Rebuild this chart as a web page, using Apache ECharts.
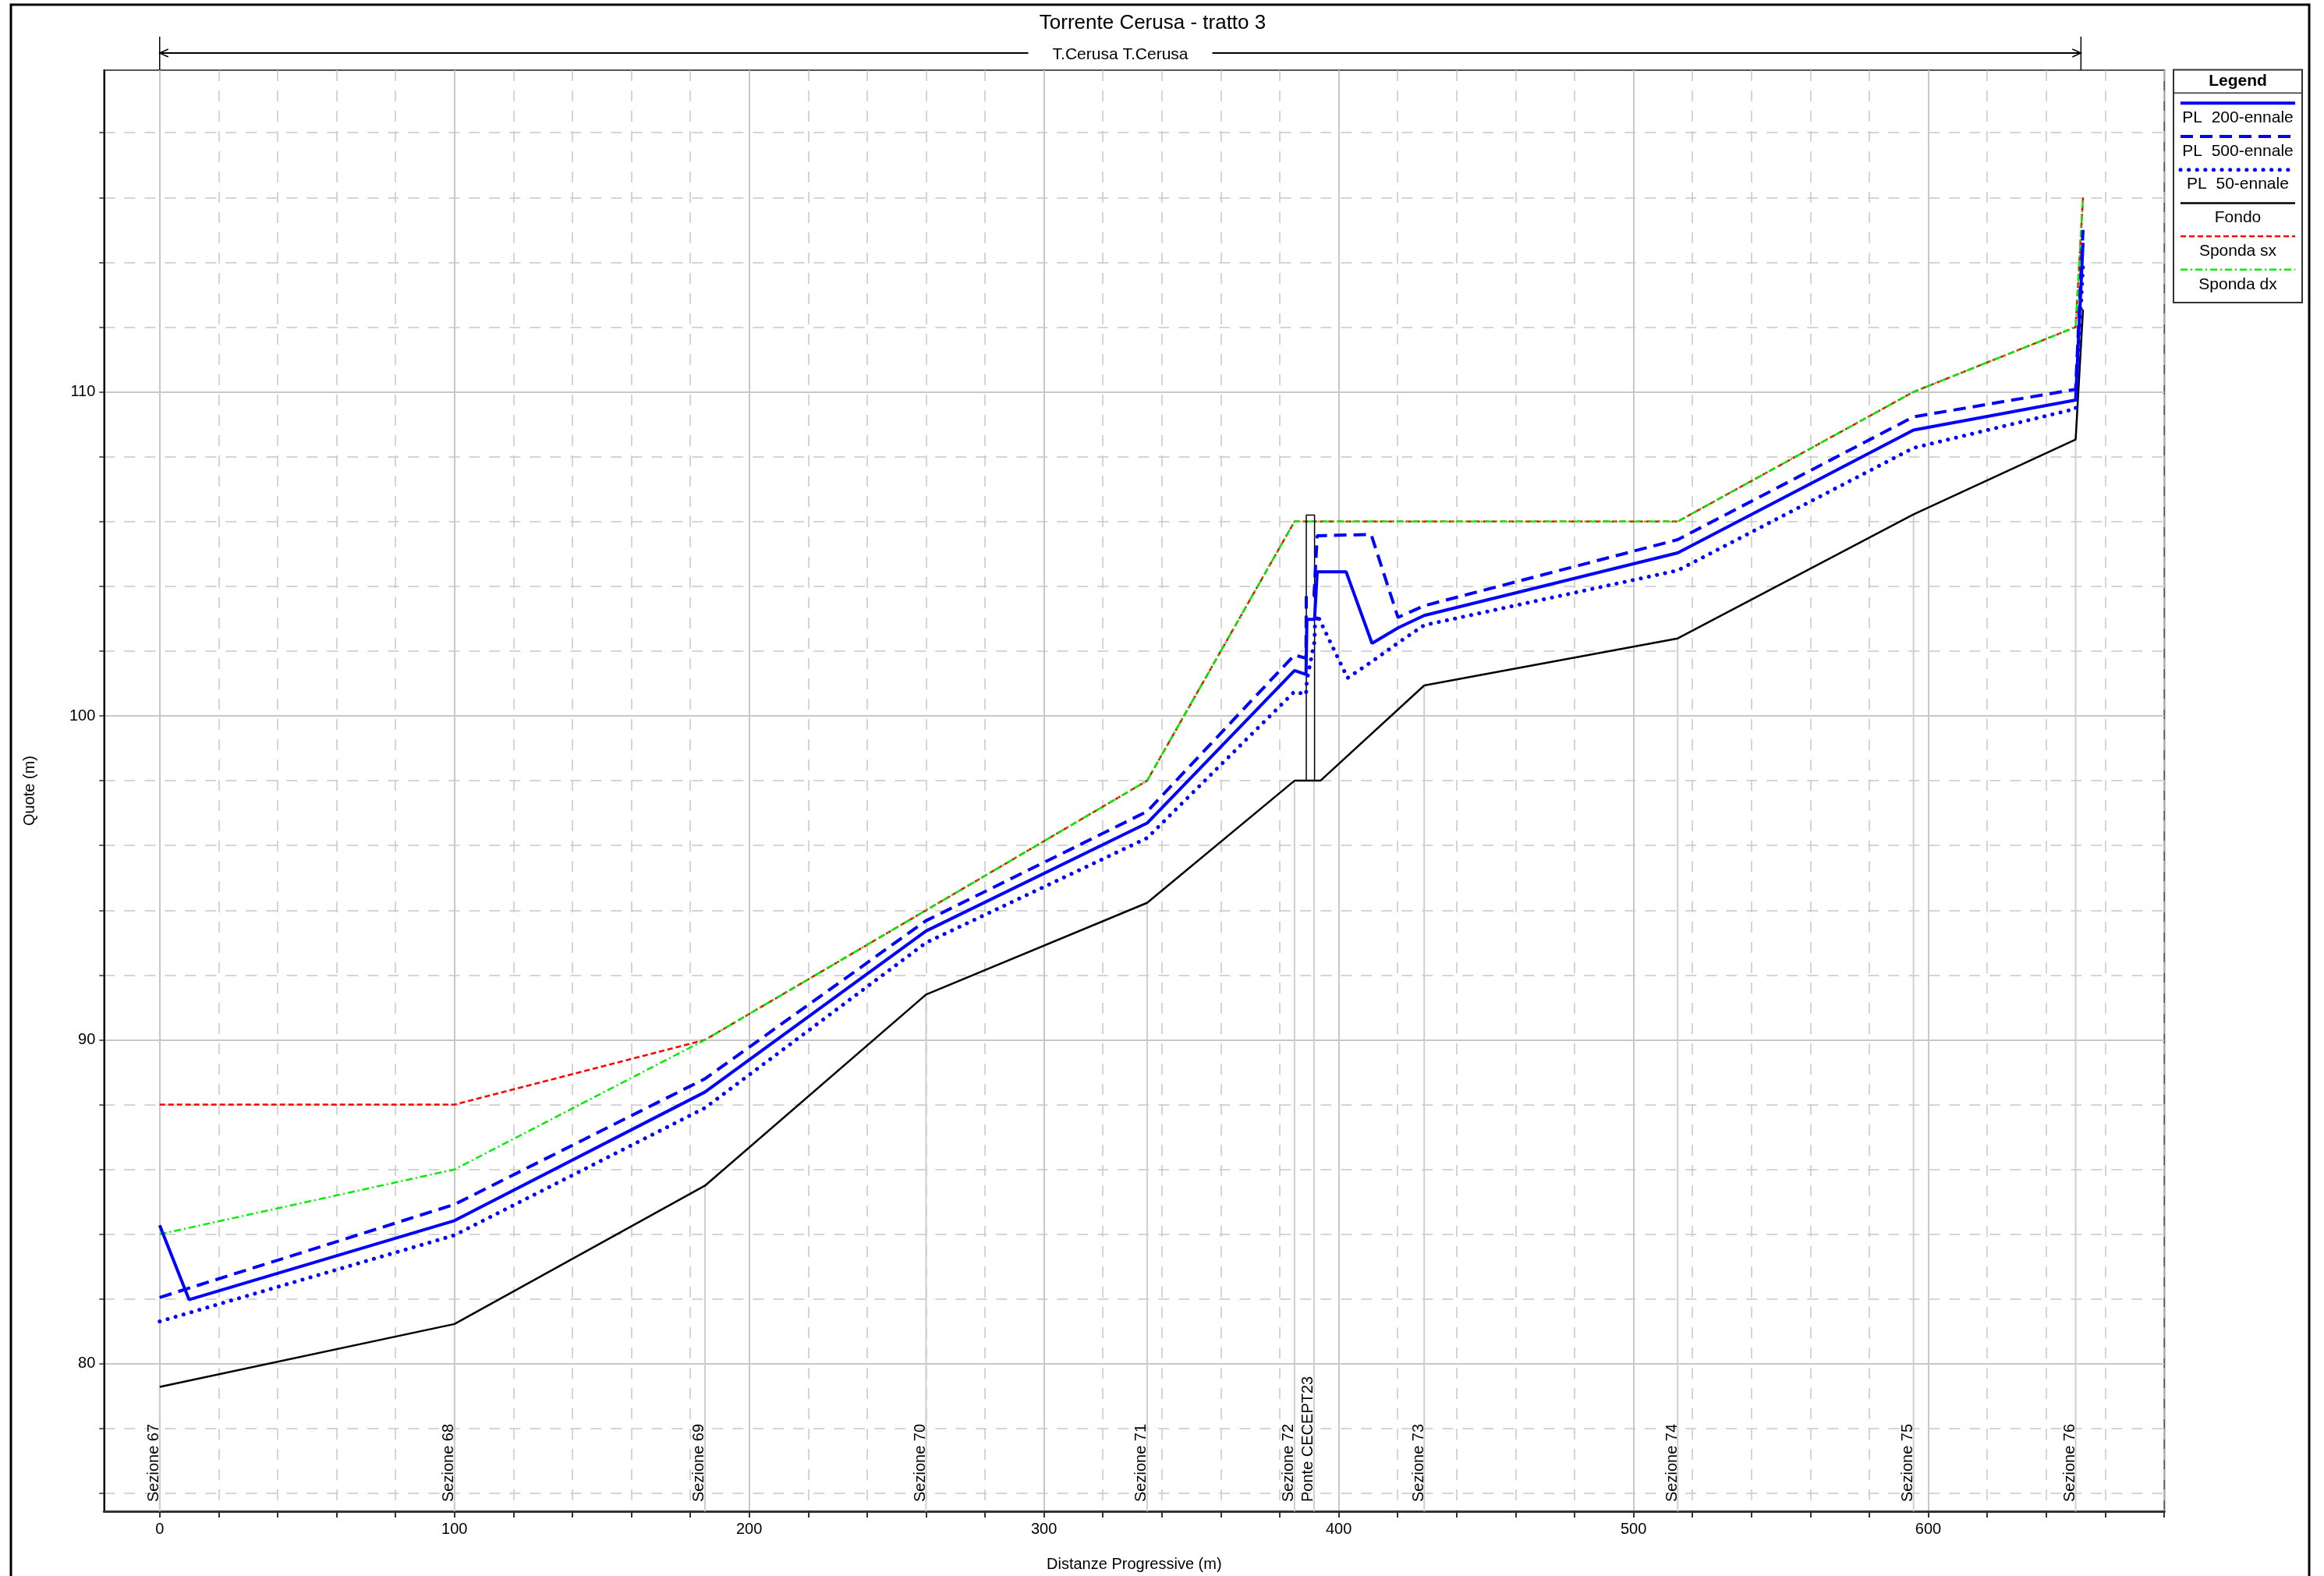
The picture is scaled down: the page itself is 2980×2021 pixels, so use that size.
<!DOCTYPE html>
<html><head><meta charset="utf-8">
<script src="https://cdn.jsdelivr.net/npm/echarts@6/dist/echarts.min.js"></script>
<style>html,body{margin:0;padding:0;background:#fff}#c{width:2980px;height:2021px}</style>
</head><body><div id="c"></div>
<script>
// ---------------- data ----------------
const sectionNames = ['Sezione 67','Sezione 68','Sezione 69','Sezione 70','Sezione 71','Sezione 72','Ponte CECEPT23','Sezione 73','Sezione 74','Sezione 75','Sezione 76'];
const sectionX     = [0, 100, 185, 260, 335, 385, 391.6, 429, 515, 595, 650];
const sectionFondo = [79.29, 81.23, 85.5, 91.4, 94.23, 98.0, 98.0, 100.94, 102.39, 106.22, 108.53];

const fondo = [[0,79.29],[100,81.23],[185,85.5],[260,91.4],[335,94.23],[385,98.0],[393.8,98.0],[429,100.94],[515,102.39],[595,106.22],[650,108.53],[652.5,112.54]];
const pl200 = [[0,84.28],[10,81.98],[100,84.42],[185,88.39],[260,93.36],[335,96.69],[385,101.4],[388.9,101.28],[389.2,102.98],[391.8,102.98],[392.7,104.45],[402.5,104.45],[411.3,102.24],[420.2,102.72],[429,103.1],[515,105.03],[595,108.82],[650,109.75],[652.5,114.6]];
const pl500 = [[0,82.05],[100,84.92],[185,88.8],[260,93.68],[335,97.05],[385,101.88],[388.9,101.78],[389.0,103.7],[391.6,103.7],[392.7,105.56],[411.0,105.6],[420.1,103.04],[429,103.4],[515,105.44],[595,109.23],[650,110.08],[652.5,115.0]];
const pl50  = [[0,81.31],[100,83.97],[185,87.9],[260,93.0],[335,96.23],[385,100.75],[388.9,100.66],[389.2,101.1],[391.8,102.3],[391.9,102.75],[392.7,103.12],[403,101.17],[411.3,101.68],[420.2,102.26],[429,102.8],[515,104.49],[595,108.27],[650,109.48],[652.5,113.9]];
const spondaSx = [[0,88],[100,88],[185,90],[260,94],[335,98],[385,106],[429,106],[515,106],[595,110],[650,112],[652.5,116]];
const spondaDx = [[0,84],[100,86],[185,90],[260,94],[335,98],[385,106],[429,106],[515,106],[595,110],[650,112],[652.5,116]];
const bridge = [[389.0,98.0],[389.0,106.2],[391.8,106.2],[391.8,98.0]];
const reach = [0, 651.8];
const reachLabel = 'T.Cerusa T.Cerusa';
const titleText = 'Torrente Cerusa - tratto 3';

// ticks / labels
const xTickValues = [0,20,40,60,80,100,120,140,160,180,200,220,240,260,280,300,320,340,360,380,400,420,440,460,480,500,520,540,560,580,600,620,640,660,680];
const xLabelValues = [0,100,200,300,400,500,600];
const yTickValues = [76,78,80,82,84,86,88,90,92,94,96,98,100,102,104,106,108,110,112,114,116,118];
const yLabelValues = [80,90,100,110];
const X_MIN = -18.9, X_MAX = 680.1, Y_MIN = 75.45, Y_MAX = 119.93;

// ---------------- chart ----------------
const FONT = 'Liberation Sans, Arial, sans-serif';
const chart = echarts.init(document.getElementById('c'), null, {renderer:'canvas'});
const gridCol = '#c8c8c8';

const sectionData = sectionX.map((x,i)=>[x, sectionFondo[i], i]);

function lineSeries(name, data, style, z){
  return {type:'line', name, data, symbol:'none', showSymbol:false, animation:false, silent:true,
    z: z, lineStyle: style, emphasis:{disabled:true}, clip:false};
}

const option = {
  animation:false,
  backgroundColor:'#fff',
  grid:{left:133.3, top:90, right:204.7, bottom:80.3, show:true, borderColor:'#555', borderWidth:2, containLabel:false},
  xAxis:[
    {type:'value', min:X_MIN, max:X_MAX, position:'bottom',
     axisLine:{show:true, onZero:false, lineStyle:{color:'#333', width:3}},
     axisTick:{show:true, customValues:xTickValues, length:8, lineStyle:{color:'#333', width:2}},
     axisLabel:{customValues:xLabelValues, fontSize:20, color:'#000', fontFamily:FONT, margin:13},
     splitLine:{show:true, lineStyle:{color:gridCol, width:1.5, type:[14,12]}},
     name:'Distanze Progressive (m)', nameLocation:'middle', nameGap:58,
     nameTextStyle:{fontSize:20, color:'#000', fontFamily:FONT}},
    {type:'value', min:X_MIN, max:X_MAX, position:'bottom',
     axisLine:{show:false}, axisTick:{show:false, customValues:xLabelValues},
     axisLabel:{show:false}, splitLine:{show:true, lineStyle:{color:gridCol, width:2, type:'solid'}}}
  ],
  yAxis:[
    {type:'value', min:Y_MIN, max:Y_MAX, position:'left',
     axisLine:{show:true, onZero:false, lineStyle:{color:'#000', width:2}},
     axisTick:{show:true, customValues:yTickValues, length:6, lineStyle:{color:'#333', width:1.5}},
     axisLabel:{customValues:yLabelValues, fontSize:20, color:'#000', fontFamily:FONT, margin:11},
     splitLine:{show:true, lineStyle:{color:gridCol, width:1.5, type:[14,12]}},
     name:'Quote (m)', nameLocation:'middle', nameGap:85, nameRotate:90,
     nameTextStyle:{fontSize:20, color:'#000', fontFamily:FONT}},
    {type:'value', min:Y_MIN, max:Y_MAX, position:'left',
     axisLine:{show:false}, axisTick:{show:false, customValues:yLabelValues},
     axisLabel:{show:false}, splitLine:{show:true, lineStyle:{color:gridCol, width:2, type:'solid'}}}
  ],
  series:[
    {type:'custom', name:'sections', data:sectionData, z:1, silent:true, animation:false, clip:false,
     renderItem:(params, api)=>{
       const x = api.value(0), f = api.value(1), idx = api.value(2);
       const p0 = api.coord([x, Y_MIN]);
       const p1 = api.coord([x, f]);
       return {type:'group', children:[
         {type:'line', shape:{x1:p0[0], y1:p0[1], x2:p1[0], y2:p1[1]}, style:{stroke:'#cfcfcf', lineWidth:2}},
         {type:'text', x:p0[0]+3, y:p0[1]-12, rotation:Math.PI/2,
          style:{text:sectionNames[idx], font:'20px '+FONT, fill:'#000', textAlign:'left', textVerticalAlign:'bottom'}}
       ]};
     }},
    lineSeries('Sponda sx', spondaSx, {color:'#ff0000', width:2.5, type:[7,4]}, 3),
    lineSeries('Sponda dx', spondaDx, {color:'#00ee00', width:2.5, type:[9,4,2,4]}, 4),
    lineSeries('Fondo', fondo, {color:'#000', width:2.5, type:'solid'}, 5),
    lineSeries('Ponte', bridge, {color:'#000', width:1.5, type:'solid'}, 5),
    lineSeries('PL 50-ennale', pl50, {color:'#0000ff', width:5, type:[0.1,10.5], cap:'round'}, 6),
    lineSeries('PL 500-ennale', pl500, {color:'#0000ff', width:4, type:[16,9]}, 7),
    lineSeries('PL 200-ennale', pl200, {color:'#0000ff', width:4, type:'solid'}, 8)
  ]
};
chart.setOption(option);

// ---------------- graphics (frame, title, reach arrow, legend) ----------------
const x0 = chart.convertToPixel({xAxisIndex:0}, reach[0]);
const x1 = chart.convertToPixel({xAxisIndex:0}, reach[1]);
const xc = (x0 + x1) / 2;
const g = [];
g.push({type:'rect', shape:{x:14, y:6, width:2947, height:2040}, style:{fill:null, stroke:'#000', lineWidth:3}, z:100, silent:true});
g.push({type:'text', x:1478, y:30, style:{text:titleText, font:'26px '+FONT, fill:'#000', textAlign:'center', textVerticalAlign:'middle'}, z:100});
const ay = 68;
const lineSt = {stroke:'#000', lineWidth:2};
g.push({type:'line', shape:{x1:x0, y1:ay, x2:xc-118, y2:ay}, style:lineSt, z:100});
g.push({type:'line', shape:{x1:xc+118, y1:ay, x2:x1, y2:ay}, style:lineSt, z:100});
g.push({type:'line', shape:{x1:x0, y1:47, x2:x0, y2:90}, style:{stroke:'#000', lineWidth:1.5}, z:100});
g.push({type:'line', shape:{x1:x1, y1:47, x2:x1, y2:90}, style:{stroke:'#000', lineWidth:1.5}, z:100});
g.push({type:'polyline', shape:{points:[[x0+11,ay-5],[x0,ay],[x0+11,ay+5]]}, style:{stroke:'#000', lineWidth:1.5, fill:null}, z:100});
g.push({type:'polyline', shape:{points:[[x1-11,ay-5],[x1,ay],[x1-11,ay+5]]}, style:{stroke:'#000', lineWidth:1.5, fill:null}, z:100});
g.push({type:'text', x:xc, y:70, style:{text:reachLabel, font:'21px '+FONT, fill:'#000', textAlign:'center', textVerticalAlign:'middle'}, z:100});

// legend box
const LX0 = 2787, LX1 = 2952, LY0 = 89.5, LY1 = 388;
g.push({type:'rect', shape:{x:LX0, y:LY0, width:LX1-LX0, height:LY1-LY0}, style:{fill:'#fff', stroke:'#333', lineWidth:2}, z:100});
g.push({type:'line', shape:{x1:LX0, y1:119.3, x2:LX1, y2:119.3}, style:{stroke:'#333', lineWidth:1.5}, z:101});
g.push({type:'text', x:(LX0+LX1)/2, y:104, style:{text:'Legend', font:'bold 21px '+FONT, fill:'#000', textAlign:'center', textVerticalAlign:'middle'}, z:101});
const legendItems = [
  {text:'PL  200-ennale', stroke:'#0000ff', w:4, dash:null},
  {text:'PL  500-ennale', stroke:'#0000ff', w:4, dash:[16,9]},
  {text:'PL  50-ennale', stroke:'#0000ff', w:5, dash:[0.1,10.5], cap:'round'},
  {text:'Fondo', stroke:'#000', w:2.5, dash:null},
  {text:'Sponda sx', stroke:'#ff0000', w:2.5, dash:[7,4]},
  {text:'Sponda dx', stroke:'#00ee00', w:2.5, dash:[9,4,2,4]}
];
legendItems.forEach((it,i)=>{
  const ly = 132.3 + i*42.7;
  g.push({type:'line', shape:{x1:2796, y1:ly, x2:2943, y2:ly},
    style:{stroke:it.stroke, lineWidth:it.w, lineDash:it.dash, lineCap:it.cap||'butt'}, z:101});
  g.push({type:'text', x:(LX0+LX1)/2, y:ly+19, style:{text:it.text, font:'21px '+FONT, fill:'#000', textAlign:'center', textVerticalAlign:'middle'}, z:101});
});
chart.setOption({graphic:g});
</script></body></html>
